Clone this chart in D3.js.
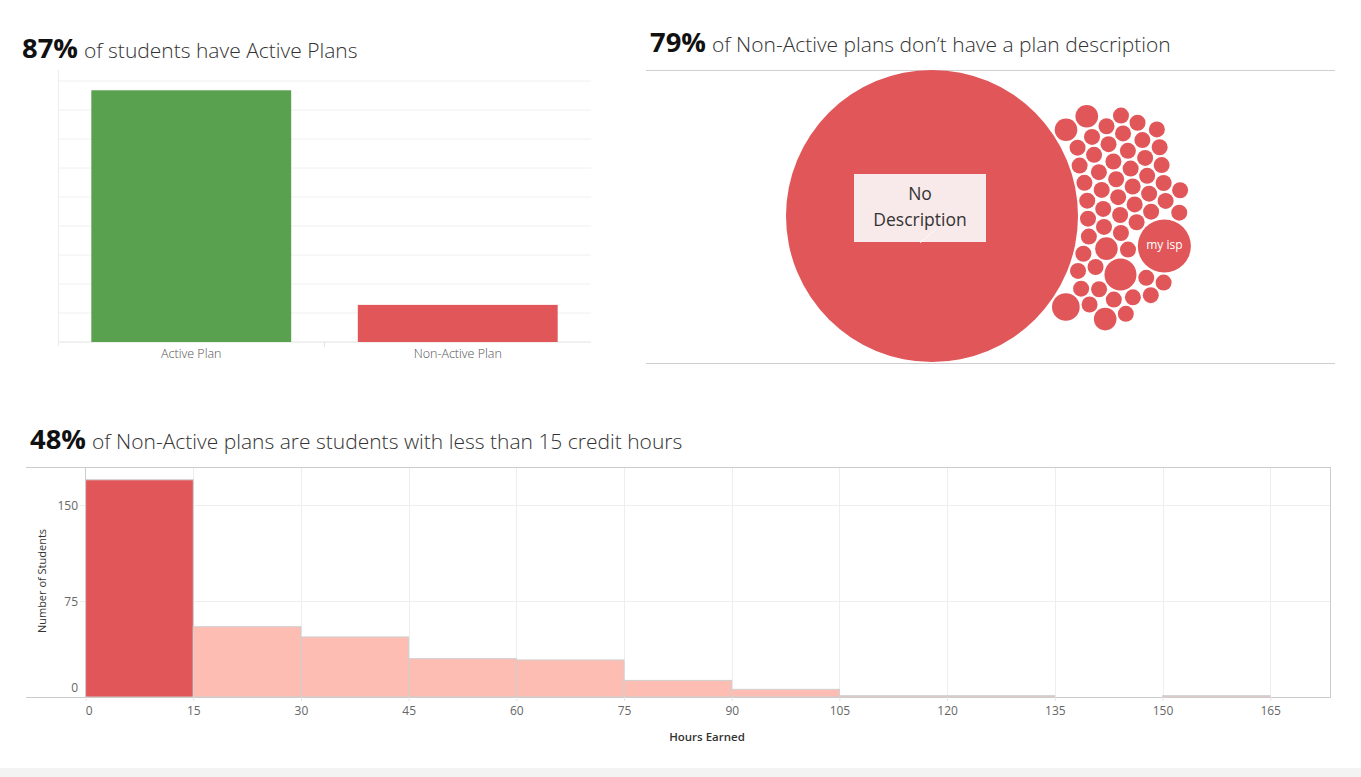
<!DOCTYPE html>
<html><head><meta charset="utf-8">
<script src="https://cdn.jsdelivr.net/npm/d3@7"></script>
<style>
body{margin:0;background:#fff;}
svg{display:block;font-family:"Open Sans","Noto Sans",sans-serif;}
</style>
</head><body>
<svg id="c" width="1361" height="777"></svg>
<script>
// ---------- DATA ----------
const planCategories = ["Active Plan", "Non-Active Plan"];
const planCounts = [2170, 320];
const planGridTicks = [0, 250, 500, 750, 1000, 1250, 1500, 1750, 2000, 2250];

const descNames = ["No Description",
  "Desc 01","Desc 02","Desc 03","Desc 04","Desc 05","Desc 06","Desc 07","Desc 08","Desc 09","Desc 10",
  "Desc 11","Desc 12","Desc 13","Desc 14","Desc 15","Desc 16","Desc 17","Desc 18","Desc 19","Desc 20",
  "Desc 21","Desc 22","Desc 23","Desc 24","Desc 25","Desc 26","Desc 27","Desc 28","Desc 29","Desc 30",
  "Desc 31","Desc 32","Desc 33","Desc 34","Desc 35","Desc 36","Desc 37","Desc 38","Desc 39","Desc 40",
  "Desc 41","Desc 42","Desc 43","Desc 44","my isp","Desc 46","Desc 47","Desc 48","Desc 49","Desc 50",
  "Desc 51","Desc 52","Desc 53","Desc 54","Desc 55","Desc 56","Desc 57","Desc 58","Desc 59"];
const descCounts = [333,
  2,1,1,1,1,2,1,1,1,1,
  1,1,1,1,1,1,1,1,1,1,
  1,1,1,1,1,1,1,1,1,1,
  1,1,1,1,1,1,1,1,1,1,
  1,2,1,1,11,1,1,4,1,1,
  1,1,1,1,1,3,1,2,1];
const descLabels = ["No Description", "my isp"];

const histBinStarts = [0, 15, 30, 45, 60, 75, 90, 105, 120, 135, 150];
const histBinWidth = 15;
const histCounts = [170, 55, 47, 30, 29, 13, 6, 1, 1, 0, 1];
const histXTicks = [0, 15, 30, 45, 60, 75, 90, 105, 120, 135, 150, 165];
const histYTicks = [0, 75, 150];

const titles = [
  {pct: "87%", text: "of students have Active Plans"},
  {pct: "79%", text: "of Non-Active plans don\u2019t have a plan description"},
  {pct: "48%", text: "of Non-Active plans are students with less than 15 credit hours"}
];

// ---------- STYLE ----------
const RED = "#e15759", GREEN = "#59a14f", PINK = "#fdbdb3";
const svg = d3.select("#c");

// bottom band
svg.append("rect").attr("x", 0).attr("y", 768).attr("width", 1361).attr("height", 9).attr("fill", "#f3f3f3");

// ---------- TITLES ----------
function title(t, x, y, pctW, textX, textW) {
  const g = svg.append("g");
  const p = g.append("text").attr("x", x).attr("y", y).text(t.pct)
    .attr("font-size", 25).attr("font-weight", 700).attr("fill", "#111");
  const w0 = p.node().getComputedTextLength();
  p.attr("font-size", 25 * pctW / w0);
  const s = g.append("text").attr("x", textX).attr("y", y).text(t.text)
    .attr("font-size", 20).attr("font-weight", 300).attr("fill", "#333");
  const w1 = s.node().getComputedTextLength();
  s.attr("font-size", Math.min(21, 20 * textW / w1));
}
title(titles[0], 22, 58, 56, 84, 275);
title(titles[1], 650, 52, 56, 712, 459);
title(titles[2], 30, 449, 56, 92, 591);

// ---------- BAR CHART ----------
{
  const x = d3.scaleBand().domain(planCategories).range([58, 591]).paddingInner(0.25).paddingOuter(0.125);
  const y = d3.scaleLinear().domain([0, 2250]).range([342, 81]);
  const g = svg.append("g");
  g.selectAll("line.grid").data(planGridTicks).join("line")
    .attr("x1", 58).attr("x2", 591).attr("y1", d => y(d)).attr("y2", d => y(d))
    .attr("stroke", d => d === 0 ? "#e2e2e2" : "#f0f0f0").attr("stroke-width", 1);
  g.append("line").attr("x1", 58.5).attr("x2", 58.5).attr("y1", 70).attr("y2", 346).attr("stroke", "#ececec");
  g.append("line").attr("x1", 324.5).attr("x2", 324.5).attr("y1", 342).attr("y2", 347).attr("stroke", "#e2e2e2");
  g.selectAll("rect.bar").data(planCategories).join("rect")
    .attr("x", d => x(d)).attr("width", x.bandwidth())
    .attr("y", (d, i) => y(planCounts[i])).attr("height", (d, i) => y(0) - y(planCounts[i]))
    .attr("fill", (d, i) => i === 0 ? GREEN : RED);
  const ax = g.append("g").attr("transform", "translate(0,347)").call(d3.axisBottom(x).tickSize(0).tickPadding(2));
  ax.select(".domain").remove();
  ax.selectAll("text").attr("font-size", 12.5).attr("font-weight", 300).attr("fill", "#555").attr("font-family", "Open Sans");
}

// ---------- BUBBLES ----------
{
  const g = svg.append("g");
  g.append("line").attr("x1", 646).attr("x2", 1335).attr("y1", 70.5).attr("y2", 70.5).attr("stroke", "#cfcfcf");
  g.append("line").attr("x1", 646).attr("x2", 1335).attr("y1", 363.5).attr("y2", 363.5).attr("stroke", "#cfcfcf");
  const r = d3.scaleSqrt().domain([0, 333]).range([0, 146]);
  const cx = 932, cy = 216;
  const nodes = descNames.map((n, i) => ({name: n, value: descCounts[i], r: r(descCounts[i]), i}));
  nodes.forEach((d, k) => {
    if (k === 0) { d.fx = cx; d.fy = cy; d.x = cx; d.y = cy; }
    else { d.x = 1090 + ((k - 1) % 5) * 18; d.y = 112 + Math.floor((k - 1) / 5) * 18; }
  });
  const sim = d3.forceSimulation(nodes)
    .force("x", d3.forceX(1102).strength(d => d.i === 0 ? 0 : 0.06))
    .force("y", d3.forceY(cy).strength(d => d.i === 0 ? 0 : 0.04))
    .force("c", d3.forceCollide(d => d.r + 1).iterations(4))
    .stop();
  for (let k = 0; k < 300; k++) sim.tick();
  g.selectAll("circle").data(nodes).join("circle")
    .attr("cx", d => d.x).attr("cy", d => d.y).attr("r", d => d.r)
    .attr("fill", RED);
  // labels
  const big = nodes[0];
  g.append("rect").attr("x", big.x - 78).attr("y", big.y - 42).attr("width", 132).attr("height", 68).attr("fill", "#f8e9ea");
  g.append("line").attr("x1", big.x - 12).attr("y1", big.y + 27).attr("x2", big.x + 4).attr("y2", big.y + 13)
    .attr("stroke", "#fff").attr("stroke-width", 1).attr("opacity", 0.8);
  g.append("text").attr("x", big.x - 12).attr("y", big.y - 21).attr("text-anchor", "middle").attr("dominant-baseline", "middle")
    .attr("font-size", 17.5).attr("font-weight", 500).attr("fill", "#333").text("No");
  g.append("text").attr("x", big.x - 12).attr("y", big.y + 5).attr("text-anchor", "middle").attr("dominant-baseline", "middle")
    .attr("font-size", 17.5).attr("font-weight", 500).attr("fill", "#333").text("Description");
  const isp = nodes.find(d => d.name === descLabels[1]);
  g.append("text").attr("x", isp.x).attr("y", isp.y).attr("text-anchor", "middle").attr("dominant-baseline", "middle")
    .attr("font-size", 12).attr("font-weight", 400).attr("fill", "#fff").text(isp.name);
}

// ---------- HISTOGRAM ----------
{
  const x = d3.scaleLinear().domain([0, 173.4]).range([85.6, 1330.5]);
  const y = d3.scaleLinear().domain([0, 180]).range([697, 467]);
  const g = svg.append("g");
  // gridlines
  g.selectAll("line.vg").data(histXTicks.slice(1)).join("line")
    .attr("x1", d => Math.round(x(d)) + 0.5).attr("x2", d => Math.round(x(d)) + 0.5).attr("y1", 467).attr("y2", 697)
    .attr("stroke", "#eeeeee");
  g.selectAll("line.hg").data(histYTicks.slice(1)).join("line")
    .attr("x1", 80).attr("x2", 1330).attr("y1", d => Math.round(y(d)) + 0.5).attr("y2", d => Math.round(y(d)) + 0.5)
    .attr("stroke", "#eeeeee");
  // bars
  g.selectAll("rect.h").data(histCounts).join("rect")
    .attr("x", (d, i) => x(histBinStarts[i])).attr("width", (d, i) => x(histBinStarts[i] + histBinWidth) - x(histBinStarts[i]))
    .attr("y", d => y(d)).attr("height", d => y(0) - y(d))
    .attr("fill", (d, i) => i === 0 ? RED : PINK)
    .attr("stroke", d => d > 0 ? "#cfcfcf" : "none").attr("stroke-width", 1);
  // frame
  g.append("line").attr("x1", 26).attr("x2", 1331).attr("y1", 467.5).attr("y2", 467.5).attr("stroke", "#cccccc");
  g.append("line").attr("x1", 26).attr("x2", 1331).attr("y1", 697.5).attr("y2", 697.5).attr("stroke", "#cccccc");
  g.append("line").attr("x1", 1330.5).attr("x2", 1330.5).attr("y1", 467).attr("y2", 698).attr("stroke", "#cccccc");
  g.append("line").attr("x1", 85.5).attr("x2", 85.5).attr("y1", 467).attr("y2", 698).attr("stroke", "#cccccc");
  // x axis
  const ax = g.append("g").attr("transform", "translate(0,697)")
    .call(d3.axisBottom(x).tickValues(histXTicks).tickSize(4).tickPadding(5));
  ax.select(".domain").remove();
  ax.selectAll(".tick line").attr("stroke", "#e4e4e4");
  ax.selectAll("text").attr("font-size", 12).attr("fill", "#666").attr("font-family", "Open Sans");
  ax.selectAll(".tick").filter(d => d === 0).select("text").attr("dx", 3);
  // y axis
  const ay = g.append("g").attr("transform", "translate(78,0)")
    .call(d3.axisLeft(y).tickValues(histYTicks).tickSize(0).tickPadding(0));
  ay.select(".domain").remove();
  ay.selectAll("text").attr("font-size", 12).attr("fill", "#666").attr("font-family", "Open Sans");
  ay.selectAll(".tick").filter(d => d === 0).select("text").attr("transform", "translate(0,-9)");
  // axis titles
  g.append("text").attr("transform", "translate(46,581) rotate(-90)").attr("text-anchor", "middle")
    .attr("font-size", 11).attr("fill", "#333").text("Number of Students");
  g.append("text").attr("x", 707).attr("y", 741).attr("text-anchor", "middle")
    .attr("font-size", 11.5).attr("font-weight", 600).attr("fill", "#333").text("Hours Earned");
}
</script>
</body></html>
